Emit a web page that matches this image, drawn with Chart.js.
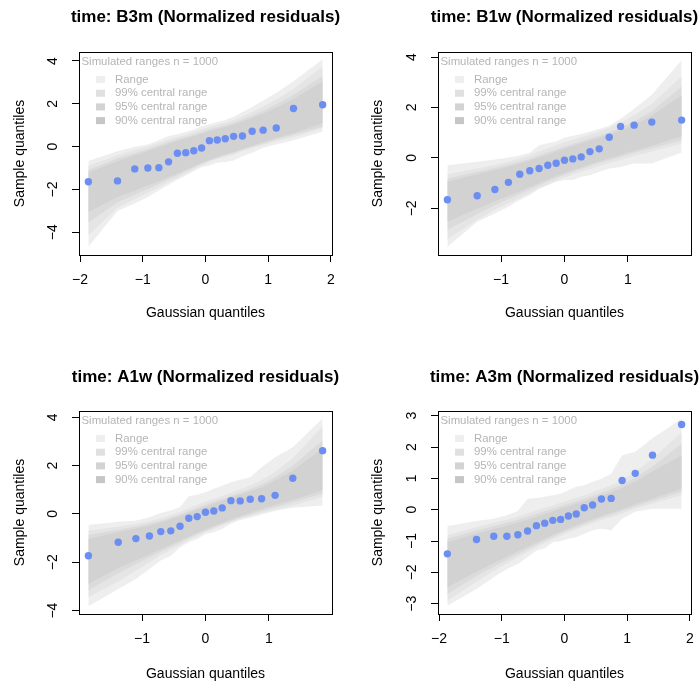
<!DOCTYPE html>
<html>
<head>
<meta charset="utf-8">
<script src="https://cdn.jsdelivr.net/npm/chart.js@4.4.1/dist/chart.umd.min.js"></script>
<style>
  html, body { margin: 0; padding: 0; background: #fff; overflow: hidden; }
  #wrap { position: relative; width: 700px; height: 684px; overflow: hidden; }
  #wrap canvas { position: absolute; }
</style>
</head>
<body>
<div id="wrap">
  <canvas id="p1" width="411" height="342" style="left:0px;top:0px"></canvas>
  <canvas id="p2" width="429" height="342" style="left:350px;top:0px"></canvas>
  <canvas id="p3" width="411" height="342" style="left:0px;top:342px"></canvas>
  <canvas id="p4" width="429" height="342" style="left:350px;top:342px"></canvas>
</div>
<script>
// gaussian quantiles (x) for n = 20 and n = 19
const qx20 = [-1.868, -1.403, -1.128, -0.919, -0.744, -0.589, -0.448, -0.315, -0.187, -0.062,
              0.062, 0.187, 0.315, 0.448, 0.589, 0.744, 0.919, 1.128, 1.403, 1.868];
const qx19 = [-1.846, -1.376, -1.097, -0.884, -0.705, -0.547, -0.401, -0.263, -0.131, 0,
              0.131, 0.263, 0.401, 0.547, 0.705, 0.884, 1.097, 1.376, 1.846];

// B3m
const b3mSample  = [-1.64, -1.60, -1.04, -1.00, -0.98, -0.71, -0.31, -0.28, -0.19, -0.06, 0.28, 0.31, 0.37, 0.48, 0.50, 0.72, 0.77, 0.87, 1.78, 1.96];
const b3mRangeHi = [-0.67, -0.22, 0.00, 0.10, 0.30, 0.50, 0.58, 0.68, 0.80, 0.95, 1.05, 1.15, 1.25, 1.40, 1.62, 1.85, 2.15, 2.50, 3.05, 4.08];
const b3mRangeLo = [-4.67, -3.00, -2.65, -2.35, -2.05, -1.78, -1.55, -1.35, -1.15, -0.95, -0.88, -0.75, -0.72, -0.65, -0.45, -0.28, -0.05, 0.10, 0.30, 0.70];
const b3mHi99 = [-0.89, -0.40, -0.15, 0.00, 0.18, 0.35, 0.45, 0.55, 0.68, 0.80, 0.92, 1.02, 1.12, 1.25, 1.42, 1.62, 1.88, 2.20, 2.70, 3.74];
const b3mLo99 = [-4.13, -2.85, -2.45, -2.15, -1.90, -1.65, -1.45, -1.25, -1.05, -0.88, -0.72, -0.58, -0.48, -0.38, -0.22, -0.08, 0.08, 0.25, 0.45, 0.86];
const b3mHi95 = [-1.09, -0.55, -0.30, -0.12, 0.05, 0.22, 0.35, 0.45, 0.56, 0.68, 0.80, 0.90, 1.00, 1.12, 1.28, 1.46, 1.68, 1.98, 2.42, 3.30];
const b3mLo95 = [-3.55, -2.60, -2.25, -1.98, -1.75, -1.52, -1.33, -1.15, -0.97, -0.80, -0.65, -0.52, -0.40, -0.30, -0.15, 0.00, 0.15, 0.35, 0.55, 0.93];
const b3mHi90 = [-1.21, -0.68, -0.40, -0.20, -0.03, 0.13, 0.27, 0.38, 0.49, 0.60, 0.72, 0.82, 0.92, 1.03, 1.18, 1.35, 1.55, 1.82, 2.22, 3.04];
const b3mLo90 = [-3.05, -2.35, -2.05, -1.82, -1.62, -1.42, -1.25, -1.08, -0.92, -0.76, -0.62, -0.49, -0.37, -0.25, -0.11, 0.04, 0.20, 0.40, 0.62, 1.09];

// B1w
const b1wSample  = [-1.66, -1.50, -1.25, -0.97, -0.65, -0.51, -0.42, -0.29, -0.21, -0.09, -0.04, 0.04, 0.25, 0.36, 0.82, 1.25, 1.30, 1.42, 1.50];
const b1wRangeHi = [-0.29, -0.15, -0.06, 0.02, 0.10, 0.20, 0.50, 0.58, 0.65, 0.80, 0.88, 0.95, 1.05, 1.15, 1.28, 1.55, 1.95, 2.50, 3.88];
const b1wRangeLo = [-3.52, -2.53, -2.20, -1.94, -1.67, -1.48, -1.22, -1.08, -0.95, -0.88, -0.88, -0.75, -0.69, -0.55, -0.42, -0.36, -0.22, -0.22, 0.21];
const b1wHi99 = [-0.65, -0.42, -0.28, -0.15, -0.02, 0.10, 0.25, 0.38, 0.50, 0.62, 0.72, 0.82, 0.93, 1.05, 1.20, 1.40, 1.70, 2.15, 3.23];
const b1wLo99 = [-3.23, -2.45, -2.05, -1.80, -1.58, -1.38, -1.20, -1.05, -0.90, -0.78, -0.66, -0.54, -0.44, -0.33, -0.20, -0.08, 0.08, 0.25, 0.57];
const b1wHi95 = [-0.82, -0.55, -0.40, -0.27, -0.15, -0.03, 0.10, 0.22, 0.33, 0.45, 0.55, 0.66, 0.77, 0.88, 1.02, 1.20, 1.45, 1.85, 2.83];
const b1wLo95 = [-2.86, -2.22, -1.88, -1.63, -1.43, -1.25, -1.08, -0.93, -0.80, -0.67, -0.55, -0.43, -0.32, -0.20, -0.08, 0.05, 0.20, 0.38, 0.70];
const b1wHi90 = [-0.95, -0.65, -0.48, -0.35, -0.22, -0.10, 0.02, 0.13, 0.25, 0.36, 0.47, 0.58, 0.69, 0.80, 0.93, 1.10, 1.32, 1.68, 2.48];
const b1wLo90 = [-2.53, -2.02, -1.72, -1.50, -1.32, -1.15, -0.99, -0.85, -0.72, -0.60, -0.48, -0.37, -0.25, -0.13, -0.01, 0.13, 0.28, 0.48, 0.86];

// A1w
const a1wSample  = [-1.73, -1.17, -1.02, -0.91, -0.73, -0.70, -0.51, -0.18, -0.11, 0.07, 0.12, 0.25, 0.55, 0.54, 0.61, 0.63, 0.77, 1.48, 2.62];
const a1wRangeHi = [-0.46, -0.32, -0.28, -0.14, 0.04, 0.14, 0.28, 0.73, 0.79, 0.90, 1.04, 1.17, 1.31, 1.42, 1.52, 1.93, 2.35, 2.76, 3.96];
const a1wRangeLo = [-3.82, -3.11, -2.69, -2.28, -1.93, -1.73, -1.38, -1.17, -1.04, -0.83, -0.76, -0.62, -0.41, -0.25, -0.16, -0.02, 0.12, 0.26, 0.35];
const a1wHi99 = [-0.69, -0.52, -0.42, -0.30, -0.18, -0.05, 0.08, 0.25, 0.38, 0.50, 0.62, 0.75, 0.88, 1.02, 1.18, 1.40, 1.75, 2.30, 3.63];
const a1wLo99 = [-3.45, -2.80, -2.35, -2.00, -1.70, -1.48, -1.28, -1.08, -0.92, -0.75, -0.62, -0.48, -0.33, -0.20, -0.08, 0.05, 0.18, 0.35, 0.70];
const a1wHi95 = [-0.87, -0.65, -0.52, -0.40, -0.28, -0.15, -0.02, 0.12, 0.25, 0.38, 0.50, 0.62, 0.75, 0.88, 1.02, 1.22, 1.52, 2.00, 3.04];
const a1wLo95 = [-3.17, -2.45, -2.08, -1.80, -1.56, -1.36, -1.18, -1.00, -0.84, -0.70, -0.56, -0.42, -0.28, -0.15, -0.02, 0.12, 0.28, 0.48, 0.84];
const a1wHi90 = [-1.04, -0.75, -0.60, -0.48, -0.35, -0.22, -0.08, 0.05, 0.18, 0.30, 0.42, 0.55, 0.67, 0.80, 0.93, 1.10, 1.38, 1.80, 2.71];
const a1wLo90 = [-2.90, -2.25, -1.92, -1.68, -1.46, -1.27, -1.10, -0.93, -0.78, -0.64, -0.50, -0.36, -0.22, -0.09, 0.05, 0.20, 0.37, 0.58, 0.98];

// A3m
const a3mSample  = [-1.41, -0.95, -0.85, -0.85, -0.80, -0.68, -0.51, -0.43, -0.34, -0.31, -0.20, -0.14, 0.06, 0.15, 0.34, 0.36, 0.93, 1.16, 1.74, 2.72];
const a3mRangeHi = [-0.52, -0.36, -0.29, -0.18, -0.04, 0.35, 0.37, 0.41, 0.46, 0.51, 0.62, 0.73, 0.78, 0.89, 0.99, 1.15, 1.74, 1.85, 2.28, 2.90];
const a3mRangeLo = [-3.07, -2.53, -2.16, -1.89, -1.73, -1.51, -1.30, -1.23, -1.04, -1.01, -0.93, -0.88, -0.77, -0.66, -0.61, -0.66, -0.29, -0.07, 0.03, 0.03];
const a3mHi99 = [-0.82, -0.55, -0.42, -0.32, -0.22, -0.12, -0.03, 0.06, 0.14, 0.22, 0.30, 0.38, 0.46, 0.56, 0.66, 0.78, 0.95, 1.22, 1.62, 2.47];
const a3mLo99 = [-2.91, -2.30, -1.95, -1.72, -1.52, -1.35, -1.20, -1.07, -0.95, -0.84, -0.73, -0.63, -0.53, -0.43, -0.34, -0.24, -0.12, 0.03, 0.20, 0.46];
const a3mHi95 = [-0.93, -0.66, -0.53, -0.42, -0.32, -0.23, -0.14, -0.05, 0.03, 0.11, 0.19, 0.27, 0.35, 0.44, 0.54, 0.65, 0.80, 1.03, 1.38, 2.10];
const a3mLo95 = [-2.69, -2.12, -1.82, -1.60, -1.42, -1.26, -1.12, -0.99, -0.87, -0.76, -0.66, -0.56, -0.46, -0.36, -0.26, -0.16, -0.04, 0.10, 0.28, 0.57];
const a3mHi90 = [-1.04, -0.76, -0.62, -0.51, -0.41, -0.32, -0.23, -0.14, -0.06, 0.03, 0.11, 0.19, 0.27, 0.36, 0.45, 0.56, 0.70, 0.90, 1.22, 1.74];
const a3mLo90 = [-2.48, -1.98, -1.70, -1.50, -1.33, -1.18, -1.05, -0.93, -0.81, -0.70, -0.60, -0.50, -0.40, -0.30, -0.20, -0.10, 0.02, 0.17, 0.35, 0.67];

// tick labels
const xTicksWide = [-2, -1, 0, 1, 2];
const xTicksNarrow = [-1, 0, 1];
const yTicksB3m = [-4, -2, 0, 2, 4];
const yTicksB1w = [-2, 0, 2, 4];
const yTicksA1w = [-4, -2, 0, 2, 4];
const yTicksA3m = [-3, -2, -1, 0, 1, 2, 3];

const legendTitle = 'Simulated ranges n = 1000';
const legendLabels = ['Range', '99% central range', '95% central range', '90% central range'];

// colours: range, 99, 95, 90
const bandFill = ['#eeeeee', '#e5e5e5', '#dbdbdb', '#d2d2d2'];
const swatchFill = ['#eeeeee', '#e0e0e0', '#d3d3d3', '#c6c6c6'];
const pointColor = '#6b8ef0';
const legendInk = '#b5b5b5';

Chart.defaults.font.family = "'Liberation Sans', Arial, Helvetica, sans-serif";
Chart.defaults.color = '#000';

const fmt = v => (v < 0 ? '\u2212' + Math.abs(v) : String(v));

// legend drawn inside the plot, top-left, like R's legend()
const insideLegend = {
  id: 'insideLegend',
  afterDatasetsDraw(chart) {
    const {ctx, chartArea: a} = chart;
    ctx.save();
    ctx.font = "11.4px 'Liberation Sans', Arial, sans-serif";
    ctx.textBaseline = 'middle';
    ctx.textAlign = 'left';
    ctx.fillStyle = legendInk;
    ctx.fillText(legendTitle, a.left + 2.5, a.top + 9.8);
    legendLabels.forEach((lab, i) => {
      const y = a.top + 27.5 + i * 13.7;
      ctx.fillStyle = swatchFill[i];
      ctx.fillRect(a.left + 17, y - 3.5, 9, 7);
      ctx.fillStyle = legendInk;
      ctx.fillText(lab, a.left + 36, y);
    });
    ctx.restore();
  }
};

// box around plot region
const frame = {
  id: 'frame',
  afterDraw(chart) {
    const {ctx, chartArea: a} = chart;
    ctx.save();
    ctx.strokeStyle = '#000';
    ctx.lineWidth = 1;
    ctx.strokeRect(Math.round(a.left) + 0.5, Math.round(a.top) + 0.5,
                   Math.round(a.right - a.left), Math.round(a.bottom - a.top));
    ctx.restore();
  }
};

function band(xs, lo, hi, color) {
  const pts = arr => arr.map((y, i) => ({x: xs[i], y: y}));
  const base = {backgroundColor: color, borderColor: 'rgba(0,0,0,0)', borderWidth: 0, pointRadius: 0, tension: 0};
  return [
    Object.assign({data: pts(lo), fill: false}, base),
    Object.assign({data: pts(hi), fill: '-1'}, base)
  ];
}

const panels = [
  {id: 'p1', title: 'time: B3m (Normalized residuals)', xs: qx20, sample: b3mSample,
   bands: [[b3mLo90, b3mHi90], [b3mLo95, b3mHi95], [b3mLo99, b3mHi99], [b3mRangeLo, b3mRangeHi]],
   xMin: -2.017, xMax: 2.017, yMin: -5.06, yMax: 4.42, xTicks: xTicksWide, yTicks: yTicksB3m,
   yW: 79, xH: 87, padR: 79, tPad: {top: 6.8, bottom: 24.8}, yTitlePad: 11.6, xTitlePad: 20.6},
  {id: 'p2', title: 'time: B1w (Normalized residuals)', xs: qx19, sample: b1wSample,
   bands: [[b1wLo90, b1wHi90], [b1wLo95, b1wHi95], [b1wLo99, b1wHi99], [b1wRangeLo, b1wRangeHi]],
   xMin: -1.994, xMax: 1.994, yMin: -3.85, yMax: 4.20, xTicks: xTicksNarrow, yTicks: yTicksB1w,
   yW: 88, xH: 87, padR: 88, tPad: {top: 6.8, bottom: 24.8}, yTitlePad: 19.9, xTitlePad: 20.6},
  {id: 'p3', title: 'time: A1w (Normalized residuals)', xs: qx19, sample: a1wSample,
   bands: [[a1wLo90, a1wHi90], [a1wLo95, a1wHi95], [a1wLo99, a1wHi99], [a1wRangeLo, a1wRangeHi]],
   xMin: -1.994, xMax: 1.994, yMin: -4.14, yMax: 4.26, xTicks: xTicksNarrow, yTicks: yTicksA1w,
   yW: 79, xH: 70, padR: 79, tPad: {top: 24.8, bottom: 23.8}, yTitlePad: 11.6, xTitlePad: 1.9},
  {id: 'p4', title: 'time: A3m (Normalized residuals)', xs: qx20, sample: a3mSample,
   bands: [[a3mLo90, a3mHi90], [a3mLo95, a3mHi95], [a3mLo99, a3mHi99], [a3mRangeLo, a3mRangeHi]],
   xMin: -2.017, xMax: 2.017, yMin: -3.33, yMax: 3.15, xTicks: xTicksWide, yTicks: yTicksA3m,
   yW: 88, xH: 70, padR: 88, tPad: {top: 24.8, bottom: 23.8}, yTitlePad: 19.9, xTitlePad: 1.9}
];

panels.forEach(p => {
  // index 0 is drawn last (on top): points, then 90 / 95 / 99 / range bands
  const datasets = [{
    data: p.sample.map((y, i) => ({x: p.xs[i], y: y})),
    showLine: false,
    pointRadius: 3.7,
    pointBackgroundColor: pointColor,
    pointBorderColor: 'rgba(0,0,0,0)',
    pointBorderWidth: 0
  }];
  p.bands.forEach((b, k) => {
    datasets.push(...band(p.xs, b[0], b[1], bandFill[3 - k]));
  });

  const grid = {drawOnChartArea: false, drawTicks: true, tickLength: 7, color: '#000', lineWidth: 1};

  new Chart(document.getElementById(p.id), {
    type: 'line',
    data: {datasets: datasets},
    options: {
      responsive: false,
      animation: false,
      events: [],
      layout: {padding: 0},
      plugins: {
        legend: {display: false},
        tooltip: {enabled: false},
        title: {
          display: true,
          text: p.title,
          color: '#000',
          font: {size: 17, weight: 'bold'},
          padding: p.tPad
        }
      },
      scales: {
        x: {
          type: 'linear',
          min: p.xMin,
          max: p.xMax,
          afterBuildTicks: s => { s.ticks = p.xTicks.map(v => ({value: v})); },
          afterFit: s => { s.height = p.xH; s.paddingRight = p.padR; s.paddingLeft = 0; },
          grid: grid,
          border: {display: false},
          ticks: {padding: 10, font: {size: 14}, color: '#000', maxRotation: 0, autoSkip: false, callback: fmt},
          title: {display: true, text: 'Gaussian quantiles', color: '#000', font: {size: 14},
                  padding: {top: 0, bottom: p.xTitlePad}}
        },
        y: {
          type: 'linear',
          min: p.yMin,
          max: p.yMax,
          afterBuildTicks: s => { s.ticks = p.yTicks.map(v => ({value: v})); },
          afterFit: s => { s.width = p.yW; },
          grid: grid,
          border: {display: false},
          ticks: {padding: 11, font: {size: 14}, color: '#000', minRotation: 90, maxRotation: 90,
                  crossAlign: 'center', autoSkip: false, callback: fmt},
          title: {display: true, text: 'Sample quantiles', color: '#000', font: {size: 14},
                  padding: {top: p.yTitlePad, bottom: 0}}
        }
      }
    },
    plugins: [insideLegend, frame]
  });
});
</script>
</body>
</html>
